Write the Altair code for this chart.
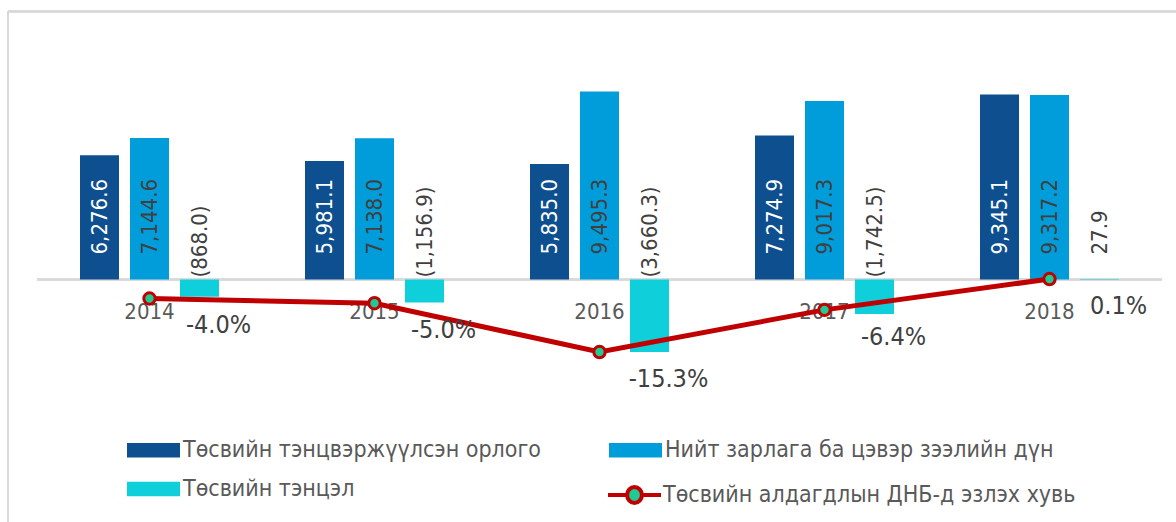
import altair as alt
import pandas as pd

years = ["2014", "2015", "2016", "2017", "2018"]
revenue = [6276.6, 5981.1, 5835.0, 7274.9, 9345.1]
spending = [7144.6, 7138.0, 9495.3, 9017.3, 9317.2]
balance = [-868.0, -1156.9, -3660.3, -1742.5, 27.9]
deficit_pct = [-4.0, -5.0, -15.3, -6.4, 0.1]

s_rev = "Төсвийн тэнцвэржүүлсэн орлого"
s_sp = "Нийт зарлага ба цэвэр зээлийн дүн"
s_bal = "Төсвийн тэнцэл"
s_pct = "Төсвийн алдагдлын ДНБ-д эзлэх хувь"
bar_series = [s_rev, s_sp, s_bal]
bar_colors = ["#0E4F8F", "#009DDA", "#0ECFDA"]
point_color = "#1DCB93"
line_color = "#C00000"

FONT = "DejaVu Sans Condensed, DejaVu Sans, sans-serif"


def fmt(v):
    s = f"{abs(v):,.1f}"
    return f"({s})" if v < 0 else s


rows = []
for i, y in enumerate(years):
    for s, vals in zip(bar_series, [revenue, spending, balance]):
        rows.append({"year": y, "series": s, "value": vals[i], "label": fmt(vals[i])})
bars_df = pd.DataFrame(rows)
bars_df["zero"] = 0

line_df = pd.DataFrame({
    "year": years,
    "pct": deficit_pct,
    "series": [s_pct] * len(years),
    "plabel": [f"{v:.1f}%" for v in deficit_pct],
})
years_df = pd.DataFrame({"year": years, "zero": [0] * len(years)})

x_enc = alt.X("year:N", scale=alt.Scale(paddingInner=1 / 3, paddingOuter=1 / 6), axis=None, sort=years)
bar_scale = alt.Scale(domain=[-5076, 12096], nice=False, zero=False)
y_bar = alt.Y("value:Q", scale=bar_scale, axis=None, stack=None)
y_zero = alt.Y("zero:Q", scale=bar_scale, axis=None)
xoff = alt.XOffset("series:N", scale=alt.Scale(domain=bar_series, paddingInner=0.22, paddingOuter=0.11), sort=bar_series)

rect_path = "M-1,-0.27H1V0.27H-1Z"
line_path = "M-1,0H-0.28M0.28,0H1M0.28,0A0.28,0.3,0,1,1,-0.28,0A0.28,0.3,0,1,1,0.28,0Z"

legend_common = dict(
    title=None,
    padding=0,
    symbolSize=2809,
    symbolOpacity=1,
    labelFont=FONT,
    labelFontSize=23,
    labelColor="#595959",
    labelLimit=800,
)

color_enc = alt.Color(
    "series:N",
    scale=alt.Scale(domain=bar_series, range=bar_colors),
    sort=bar_series,
    legend=alt.Legend(
        orient="none",
        direction="horizontal",
        legendX=90,
        legendY=383.5,
        columns=2,
        columnPadding=68,
        rowPadding=-1,
        labelOffset=3,
        symbolType=rect_path,
        symbolStrokeWidth=0,
        **legend_common,
    ),
)

fill_enc = alt.Fill(
    "series:N",
    scale=alt.Scale(domain=[s_pct], range=[point_color]),
    legend=alt.Legend(
        orient="none",
        legendX=569,
        legendY=426.5,
        labelOffset=0,
        symbolType=line_path,
        symbolStrokeColor=line_color,
        symbolStrokeWidth=4,
        **legend_common,
    ),
)

base_bar = alt.Chart(bars_df)

frame_top = alt.Chart(years_df).mark_rule(color="#D9D9D9", strokeWidth=2).encode(
    x=alt.value(-29), x2=alt.value(1300), y=alt.value(-28.5)
)
frame_left = alt.Chart(years_df).mark_rule(color="#D9D9D9", strokeWidth=2).encode(
    x=alt.value(-29), y=alt.value(-28.5), y2=alt.value(700)
)

baseline = alt.Chart(years_df).mark_rule(color="#D9D9D9", strokeWidth=2).encode(y=y_zero)

bars = base_bar.mark_bar().encode(x=x_enc, xOffset=xoff, y=y_bar, color=color_enc)

lab_pos = base_bar.transform_filter(
    (alt.datum.series != s_bal) | (alt.datum.value >= 0)
).mark_text(angle=270, align="left", baseline="middle", dx=25, font=FONT, fontSize=22).encode(
    x=x_enc,
    xOffset=xoff,
    y=y_zero,
    text="label:N",
    color=alt.condition(alt.datum.series == s_rev, alt.value("white"), alt.value("#404040")),
)

lab_neg = base_bar.transform_filter(
    (alt.datum.series == s_bal) & (alt.datum.value < 0)
).mark_text(angle=270, align="left", baseline="middle", dx=2, font=FONT, fontSize=22, color="#404040").encode(
    x=x_enc,
    xOffset=xoff,
    y=y_zero,
    text="label:N",
)

year_labels = alt.Chart(years_df).mark_text(
    align="center", baseline="middle", dy=33, font=FONT, fontSize=22, color="#595959"
).encode(x=x_enc, y=y_zero, text="year:N")

bar_group = alt.layer(frame_top, frame_left, baseline, bars, lab_pos, lab_neg, year_labels)

y_pct = alt.Y("pct:Q", scale=alt.Scale(domain=[-21.2, 50.53], nice=False, zero=False), axis=None)
base_line = alt.Chart(line_df)
line = base_line.mark_line(color=line_color, strokeWidth=5).encode(x=x_enc, y=y_pct)
points = base_line.mark_point(filled=True, size=130, stroke=line_color, strokeWidth=3, opacity=1).encode(
    x=x_enc, y=y_pct, fill=fill_enc
)
pct_labels = base_line.mark_text(
    align="center", baseline="middle", dx=69, dy=27, font=FONT, fontSize=25, color="#404040"
).encode(x=x_enc, y=y_pct, text="plabel:N")

line_group = alt.layer(line, points, pct_labels)

chart = alt.layer(bar_group, line_group).resolve_scale(y="independent").properties(
    width=1125,
    height=340,
    padding={"left": 37, "top": 40, "right": 14, "bottom": 142},
    autosize=alt.AutoSizeParams(type="none"),
).configure_view(stroke=None)

chart.save("out.html", embed_options={"renderer": "svg", "actions": False})
